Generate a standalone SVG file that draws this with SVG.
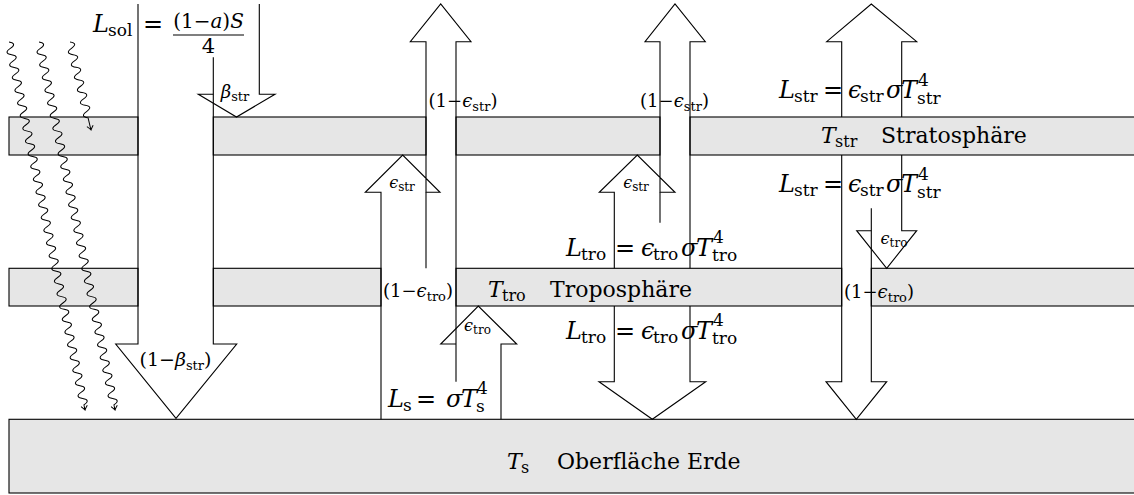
<svg xmlns="http://www.w3.org/2000/svg" width="1134" height="495" viewBox="0 0 1134 495">
<style>
.band{fill:#e6e6e6;stroke:#000;stroke-width:1.1}
.ln{fill:none;stroke:#000;stroke-width:1.1;stroke-linejoin:miter}
.wv{fill:none;stroke:#000;stroke-width:1}
text{font-family:"DejaVu Serif","Liberation Serif",serif;fill:#000}
.i{font-style:italic}
.eq{font-size:24px}
.sb{font-size:17px}
.lb{font-size:22px}
.lbs{font-size:16px}
.sm{font-size:18px}
.ss{font-size:13px}
.tn{font-size:16px}
.ts{font-size:12px}
</style>
<rect x="0" y="0" width="1134" height="495" fill="#fff"/>

<g id="stratosphere">
<rect class="band" x="9" y="117" width="129" height="38"/>
<rect class="band" x="213.3" y="117" width="212.7" height="38"/>
<rect class="band" x="456" y="117" width="204" height="38"/>
<rect class="band" x="690" y="117" width="460" height="38"/>
<text class="lb"><tspan class="i" x="821" y="143">T</tspan><tspan class="lbs" x="835" y="147">str</tspan><tspan x="881" y="143">Stratosphäre</tspan></text>
</g>

<g id="troposphere">
<rect class="band" x="9" y="268.3" width="129" height="37.7"/>
<rect class="band" x="213.3" y="268.3" width="167.7" height="37.7"/>
<rect class="band" x="456" y="268.3" width="385.7" height="37.7"/>
<rect class="band" x="871.3" y="268.3" width="280" height="37.7"/>
<text class="lb"><tspan class="i" x="488" y="297">T</tspan><tspan class="lbs" x="502" y="301">tro</tspan><tspan x="550" y="297">Troposphäre</tspan></text>
</g>

<g id="surface">
<rect class="band" x="9" y="419.3" width="1141" height="73.7"/>
<text class="lb"><tspan class="i" x="507" y="469">T</tspan><tspan class="lbs" x="521" y="473">s</tspan><tspan x="557" y="469">Oberfläche Erde</tspan></text>
</g>

<g id="connectors">
<!-- solar shortwave arrow -->
<path class="ln" d="M138,4 V344 H115.7 L176,418.3 L236.7,344 H213.3 V57.3"/>
<path class="ln" d="M259.3,4 V94.3 H275 L236.5,117 L198.3,94.3 H213.3"/>
<!-- surface emission -->
<path class="ln" d="M381,419.3 V192.3 H365.3 L402.7,155 L440,192.3 H426 V41.7 H410.3 L440.7,4 L471,41.7 H456 V381.7"/>
<path class="ln" d="M426,192.3 V268.3"/>
<path class="ln" d="M456,344 H440.7 L478.3,306 L516.7,344 H501 V419.3"/>
<!-- troposphere emission -->
<path class="ln" d="M614.3,268.3 V192.3 H599.3 L637.3,155 L675,192.3 H660 V41.7 H645 L675,4 L705.3,41.7 H690 V268.3"/>
<path class="ln" d="M660,192.3 V222.7"/>
<path class="ln" d="M614.3,306 V381.7 H599 L652.3,419.3 L705.7,381.7 H690 V306"/>
<!-- stratosphere emission -->
<path class="ln" d="M841.7,117 V41.7 H826.7 L871.3,4 L916.7,41.7 H901.7 V117"/>
<path class="ln" d="M841.7,155 V381.7 H826 L856.3,419.3 L886.7,381.7 H871.3 V208.3"/>
<path class="ln" d="M901.7,155 V230.7 H916.7 L886.7,268.3 L856.7,230.7 H871.3"/>
<!-- wavy lines -->
<g transform="translate(9,42) rotate(78.33)">
<path class="wv" d="M0,0 q3.25,-8 6.5,0 t6.5,0 t6.5,0 t6.5,0 t6.5,0 t6.5,0 t6.5,0 t6.5,0 t6.5,0 t6.5,0 t6.5,0 t6.5,0 t6.5,0 t6.5,0 t6.5,0 t6.5,0 t6.5,0 t6.5,0 t6.5,0 t6.5,0 t6.5,0 t6.5,0 t6.5,0 t6.5,0 t6.5,0 t6.5,0 t6.5,0 t6.5,0 t6.5,0 t6.5,0 t6.5,0 t6.5,0 t6.5,0 t6.5,0 t6.5,0 t6.5,0 t6.5,0 t6.5,0 t6.5,0 t6.5,0 t6.5,0 t6.5,0 t6.5,0 t6.5,0 t6.5,0 t6.5,0 t6.5,0 t6.5,0 t6.5,0 t6.5,0 t6.5,0 t6.5,0 t6.5,0 t6.5,0 t6.5,0 t6.5,0 t6.5,0 L375.8,0 M371.6,-3.2 Q374.4,-0.7 375.8,0 Q374.4,0.7 371.6,3.2"/>
</g>
<g transform="translate(39,42) rotate(78.33)">
<path class="wv" d="M0,0 q3.25,-8 6.5,0 t6.5,0 t6.5,0 t6.5,0 t6.5,0 t6.5,0 t6.5,0 t6.5,0 t6.5,0 t6.5,0 t6.5,0 t6.5,0 t6.5,0 t6.5,0 t6.5,0 t6.5,0 t6.5,0 t6.5,0 t6.5,0 t6.5,0 t6.5,0 t6.5,0 t6.5,0 t6.5,0 t6.5,0 t6.5,0 t6.5,0 t6.5,0 t6.5,0 t6.5,0 t6.5,0 t6.5,0 t6.5,0 t6.5,0 t6.5,0 t6.5,0 t6.5,0 t6.5,0 t6.5,0 t6.5,0 t6.5,0 t6.5,0 t6.5,0 t6.5,0 t6.5,0 t6.5,0 t6.5,0 t6.5,0 t6.5,0 t6.5,0 t6.5,0 t6.5,0 t6.5,0 t6.5,0 t6.5,0 t6.5,0 t6.5,0 L375.8,0 M371.6,-3.2 Q374.4,-0.7 375.8,0 Q374.4,0.7 371.6,3.2"/>
</g>
<g transform="translate(70,42) rotate(76.58)">
<path class="wv" d="M0,0 q3.25,-8 6.5,0 t6.5,0 t6.5,0 t6.5,0 t6.5,0 t6.5,0 t6.5,0 t6.5,0 t6.5,0 t6.5,0 t6.5,0 t6.5,0 L90.5,0 M86.3,-3.2 Q89.1,-0.7 90.5,0 Q89.1,0.7 86.3,3.2"/>
</g>
</g>

<g id="labels">
<!-- L_sol -->
<text class="eq"><tspan class="i" x="93" y="31.5">L</tspan><tspan class="sb" x="108" y="35.5">sol</tspan><tspan x="143" y="31.5">=</tspan></text>
<text x="208.5" y="27.5" font-size="20" text-anchor="middle">(1−<tspan class="i">a</tspan>)<tspan class="i">S</tspan></text>
<line class="ln" x1="173" y1="35" x2="244" y2="35"/>
<text x="208.5" y="53.3" font-size="21" text-anchor="middle">4</text>
<!-- beta -->
<text x="235" y="98" font-size="18" text-anchor="middle"><tspan class="i">β</tspan><tspan class="ss" dy="3">str</tspan></text>
<text x="175.5" y="366" font-size="19" text-anchor="middle">(1−<tspan class="i">β</tspan><tspan class="ss" dy="4">str</tspan><tspan dy="-4">)</tspan></text>
<!-- surface arrow -->
<text class="eq"><tspan class="i" x="388" y="406.5">L</tspan><tspan class="sb" x="403" y="411">s</tspan><tspan x="416" y="406.5">=</tspan><tspan class="i" x="446" y="406.5">σ</tspan><tspan class="i" x="461" y="406.5">T</tspan><tspan class="sb" x="477" y="394">4</tspan><tspan class="sb" x="476" y="412">s</tspan></text>
<text class="sm" x="463" y="107" text-anchor="middle">(1−<tspan class="i">ϵ</tspan><tspan class="ss" dy="4">str</tspan><tspan dy="-4">)</tspan></text>
<text class="tn" x="402" y="188" text-anchor="middle"><tspan class="i">ϵ</tspan><tspan class="ts" dy="3">str</tspan></text>
<text class="sm" x="418" y="297" text-anchor="middle">(1−<tspan class="i">ϵ</tspan><tspan class="ss" dy="4">tro</tspan><tspan dy="-4">)</tspan></text>
<text class="tn" x="477.5" y="331" text-anchor="middle"><tspan class="i">ϵ</tspan><tspan class="ts" dy="3">tro</tspan></text>
<!-- troposphere -->
<text class="eq"><tspan class="i" x="566" y="255.5">L</tspan><tspan class="sb" x="581" y="259.5">tro</tspan><tspan x="615" y="255.5">=</tspan><tspan class="i" x="641" y="255.5">ϵ</tspan><tspan class="sb" x="653" y="259.5">tro</tspan><tspan class="i" x="681" y="255.5">σ</tspan><tspan class="i" x="696" y="255.5">T</tspan><tspan class="sb" x="713" y="243">4</tspan><tspan class="sb" x="712" y="261">tro</tspan></text>
<text class="eq"><tspan class="i" x="566" y="338.5">L</tspan><tspan class="sb" x="581" y="342.5">tro</tspan><tspan x="615" y="338.5">=</tspan><tspan class="i" x="641" y="338.5">ϵ</tspan><tspan class="sb" x="653" y="342.5">tro</tspan><tspan class="i" x="681" y="338.5">σ</tspan><tspan class="i" x="696" y="338.5">T</tspan><tspan class="sb" x="713" y="326">4</tspan><tspan class="sb" x="712" y="344">tro</tspan></text>
<text class="sm" x="674.5" y="107" text-anchor="middle">(1−<tspan class="i">ϵ</tspan><tspan class="ss" dy="4">str</tspan><tspan dy="-4">)</tspan></text>
<text class="tn" x="636" y="188" text-anchor="middle"><tspan class="i">ϵ</tspan><tspan class="ts" dy="3">str</tspan></text>
<!-- stratosphere -->
<text class="eq"><tspan class="i" x="779" y="98">L</tspan><tspan class="sb" x="794" y="102">str</tspan><tspan x="823" y="98">=</tspan><tspan class="i" x="848" y="98">ϵ</tspan><tspan class="sb" x="860" y="102">str</tspan><tspan class="i" x="886" y="98">σ</tspan><tspan class="i" x="901" y="98">T</tspan><tspan class="sb" x="918" y="86">4</tspan><tspan class="sb" x="917" y="104">str</tspan></text>
<text class="eq"><tspan class="i" x="779" y="192">L</tspan><tspan class="sb" x="794" y="196">str</tspan><tspan x="823" y="192">=</tspan><tspan class="i" x="848" y="192">ϵ</tspan><tspan class="sb" x="860" y="196">str</tspan><tspan class="i" x="886" y="192">σ</tspan><tspan class="i" x="901" y="192">T</tspan><tspan class="sb" x="918" y="180">4</tspan><tspan class="sb" x="917" y="198">str</tspan></text>
<text class="tn" x="894" y="244" text-anchor="middle"><tspan class="i">ϵ</tspan><tspan class="ts" dy="3">tro</tspan></text>
<text class="sm" x="879" y="298" text-anchor="middle">(1−<tspan class="i">ϵ</tspan><tspan class="ss" dy="4">tro</tspan><tspan dy="-4">)</tspan></text>
</g>
</svg>
